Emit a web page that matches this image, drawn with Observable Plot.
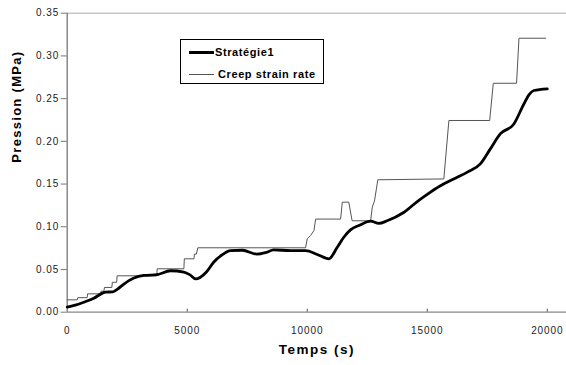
<!DOCTYPE html>
<html>
<head>
<meta charset="utf-8">
<script src="https://cdn.jsdelivr.net/npm/d3@7"></script>
<script src="https://cdn.jsdelivr.net/npm/@observablehq/plot@0.6"></script>
<style>
  html, body { margin: 0; padding: 0; background: #fff; }
  #chart { position: relative; width: 566px; height: 365px; font-family: "Liberation Sans", Arial, sans-serif; }
  #chart svg { display: block; }
  #legend { position: absolute; left: 180px; top: 39px; width: 142px; height: 43px; border: 1px solid #000; background: #fff;
            font: bold 11px "Liberation Sans", Arial, sans-serif; letter-spacing: 0.6px; color: #000; }
  #legend .row { position: absolute; left: 0; height: 14px; display: flex; align-items: center; }
  #legend .sw { width: 25px; margin-left: 8px; margin-right: 1px; }
</style>
</head>
<body>
<div id="chart"></div>
<script>
// Stratégie1 (time s, pressure MPa)
const strategieT = [0, 300, 690, 1110, 1450, 1600, 1900, 2100, 2360, 2780, 3190, 3750, 4300, 4860, 5100, 5350, 5550, 5800, 6100, 6450, 6800, 7300, 7900, 8300, 8600, 9300, 9930, 10420, 10900, 11250, 11530, 11800, 12200, 12640, 12980, 13330, 14030, 14650, 15000, 15550, 16100, 16670, 17220, 17600, 18050, 18600, 19030, 19250, 19440, 20000];
const strategieP = [0.006, 0.008, 0.0117, 0.0164, 0.022, 0.0235, 0.0238, 0.027, 0.033, 0.040, 0.043, 0.044, 0.0485, 0.047, 0.044, 0.039, 0.041, 0.047, 0.0585, 0.067, 0.072, 0.0725, 0.068, 0.070, 0.073, 0.072, 0.072, 0.0675, 0.0625, 0.076, 0.088, 0.0964, 0.102, 0.1065, 0.104, 0.107, 0.117, 0.131, 0.138, 0.148, 0.156, 0.164, 0.174, 0.19, 0.209, 0.22, 0.244, 0.255, 0.2595, 0.2615];

// Creep strain rate (stepped)
const creepT = [0, 420, 440, 830, 850, 1390, 1410, 1530, 1550, 1860, 1880, 2060, 2080, 3730, 3750, 4860, 4880, 5280, 5300, 5380, 5440, 9930, 10000, 10140, 10280, 10350, 11390, 11460, 11730, 11870, 12640, 12710, 12800, 12940, 15690, 15900, 17600, 17750, 18720, 18820, 19930];
const creepP = [0.0145, 0.0145, 0.017, 0.017, 0.0215, 0.0215, 0.0246, 0.0246, 0.029, 0.029, 0.035, 0.035, 0.0426, 0.0426, 0.0508, 0.0508, 0.0625, 0.0625, 0.068, 0.068, 0.0754, 0.0754, 0.086, 0.0898, 0.0956, 0.109, 0.109, 0.1288, 0.1288, 0.107, 0.107, 0.123, 0.13, 0.155, 0.156, 0.2244, 0.2244, 0.268, 0.268, 0.3207, 0.3207];

const xTicks = [0, 5000, 10000, 15000, 20000];
const yTicks = [0, 0.05, 0.10, 0.15, 0.20, 0.25, 0.30, 0.35];
const xDomain = [0, 20800];
const yDomain = [0, 0.35];
const seriesNames = ["Stratégie1", "Creep strain rate"];
const xTitle = "Temps (s)";
const yTitle = "Pression (MPa)";

const strategie = strategieT.map((t, i) => ({t, p: strategieP[i]}));
const creep = creepT.map((t, i) => ({t, p: creepP[i]}));

const plot = Plot.plot({
  width: 566,
  height: 365,
  marginLeft: 66.7,
  marginRight: 0,
  marginTop: 12.7,
  marginBottom: 53.3,
  style: {fontFamily: '"Liberation Sans", Arial, sans-serif', fontSize: "10px", color: "#222", background: "#fff"},
  x: {domain: xDomain},
  y: {domain: yDomain},
  marks: [
    Plot.ruleY([yDomain[1]], {stroke: "#aaa", strokeWidth: 1}),
    Plot.ruleY([0], {stroke: "#888", strokeWidth: 1.3}),
    Plot.ruleX([0], {stroke: "#777", strokeWidth: 1.3}),
    Plot.ruleX(xTicks.slice(1), {y1: 0, y2: 0.0035, stroke: "#555"}),
    Plot.axisY(yTicks, {tickSize: 6, tickPadding: 2, tickFormat: d3.format(".2f"), label: null, stroke: "#777", fill: "#222"}),
    Plot.axisX(xTicks, {tickSize: 0, tickPadding: 15, tickFormat: d => String(d), label: null, fill: "#222"}),
    Plot.line(creep, {x: "t", y: "p", stroke: "#555", strokeWidth: 1}),
    Plot.line(strategie, {x: "t", y: "p", stroke: "#000", strokeWidth: 2.8, curve: "monotone-x"}),
    Plot.text([yTitle], {frameAnchor: "left", rotate: -90, dx: -50, fontWeight: "bold", fontSize: 13, fill: "#000"}),
    Plot.text([xTitle], {frameAnchor: "bottom", dy: 42, fontWeight: "bold", fontSize: 13.5, fill: "#000"})
  ]
});

const chart = document.getElementById("chart");
chart.appendChild(plot);

// letter spacing tweaks
const allText = d3.select(plot).selectAll("text");
allText.filter(function() { return this.textContent === yTitle; }).style("letter-spacing", "1.3px");
allText.filter(function() { return this.textContent === xTitle; }).style("letter-spacing", "1.5px");
allText.filter(function() { return this.textContent !== xTitle && this.textContent !== yTitle; }).style("letter-spacing", "0.9px");

const legend = document.createElement("div");
legend.id = "legend";
const styles = [{h: 3, c: "#000", top: 5}, {h: 1, c: "#555", top: 27}];
seriesNames.forEach((name, i) => {
  const row = document.createElement("div");
  row.className = "row";
  row.style.top = styles[i].top + "px";
  const sw = document.createElement("span");
  sw.className = "sw";
  sw.style.height = styles[i].h + "px";
  sw.style.background = styles[i].c;
  const label = document.createElement("span");
  label.textContent = name;
  if (i === 1) label.style.marginLeft = "3px";
  row.appendChild(sw);
  row.appendChild(label);
  legend.appendChild(row);
});
chart.appendChild(legend);
</script>
</body>
</html>
